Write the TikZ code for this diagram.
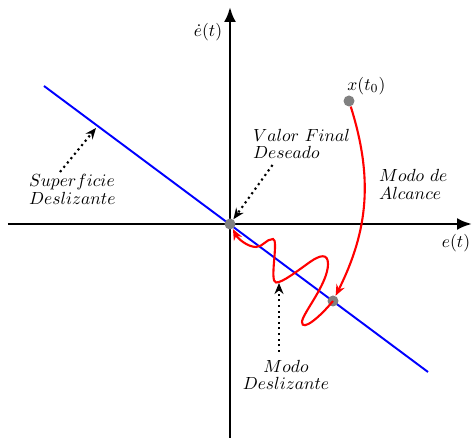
\documentclass[tikz,border=0pt]{standalone}
\usepackage{amsmath,amssymb}
\usetikzlibrary{arrows.meta}
\definecolor{cgray}{HTML}{808080}

\begin{document}
\begin{tikzpicture}[
  punto/.style={circle,fill=cgray,inner sep=0pt,minimum size=2.2mm},
  etiq/.style={align=left,inner sep=1pt},
  flecha/.style={-{Stealth[length=2.2mm,width=1.8mm]},dotted,line width=1.2pt}]
  \useasboundingbox (-4.6,-4.28) rectangle (4.84,4.48);
  % axes
  \coordinate (xa) at (-4.44,0);
  \coordinate (xb) at (4.84,0);
  \coordinate (ya) at (0,-4.3);
  \coordinate (yb) at (0,4.34);
  \draw[line width=1.6pt,-{Latex[length=3mm,width=2.4mm]}] (xa) -- (xb);
  \draw[line width=1.6pt,-{Latex[length=3mm,width=2.4mm]}] (ya) -- (yb);
  \node (ex) at (4.52,-0.38) {$e(t)$};
  \node[inner sep=1pt] (edx) at (-0.44,3.84) {$\dot{e}(t)$};
  % sliding surface
  \coordinate (s1) at (-3.72,2.76);
  \coordinate (s2) at (3.96,-2.96);
  \draw[blue,line width=1.1pt] (s1) -- (s2);
  % points
  \node[punto] (o) at (0,0) {};
  \node[punto] (p1) at (2.38,2.46) {};
  \node[punto] (p2) at (2.06,-1.54) {};
  \node[above right=-1pt] (x0) at (2.26,2.5) {$x(t_0)$};
  % trajectory
  \draw[red,line width=1.2pt,-{Stealth[length=2.2mm,width=1.8mm]}] (p1) to[bend left=22] (p2);
  \draw[red,line width=1.2pt,-{Stealth[length=2.2mm,width=1.8mm]}] (p2.center)
    .. controls (1.80,-1.86) and (1.44,-2.16) .. (1.44,-1.96)
    .. controls (1.44,-1.80) and (1.96,-1.20) .. (1.96,-0.80)
    .. controls (1.96,-0.58) and (1.80,-0.62) .. (1.60,-0.76)
    .. controls (1.36,-0.93) and (1.04,-1.18) .. (0.92,-1.17)
    .. controls (0.78,-1.16) and (0.98,-0.30) .. (0.86,-0.30)
    .. controls (0.72,-0.30) and (0.66,-0.46) .. (0.52,-0.46)
    .. controls (0.36,-0.46) and (0.16,-0.30) .. (o.-60);
  % labels
  \node[etiq,anchor=west] (sup) at (-4.06,0.69) {$Superficie$\\[-2pt]$Deslizante$};
  \node[etiq,anchor=west] (vfd) at (0.42,1.60) {$Valor\ Final$\\[-2pt]$Deseado$};
  \node[etiq,anchor=west] (alc) at (2.94,0.79) {$Modo\ de$\\[-2pt]$Alcance$};
  \node[etiq,align=center] (mdl) at (1.12,-3.02) {$Modo$\\[-2pt]$Deslizante$};
  % pointers
  \coordinate (a1) at (-3.40,1.04);
  \coordinate (a1t) at (-2.68,1.92);
  \coordinate (a2) at (0.85,1.18);
  \coordinate (a3) at (0.98,-2.56);
  \coordinate (a3t) at (0.98,-1.18);
  \draw[flecha] (a1) -- (a1t);
  \draw[flecha] (a2) -- (o);
  \draw[flecha] (a3) -- (a3t);
\end{tikzpicture}
\end{document}
